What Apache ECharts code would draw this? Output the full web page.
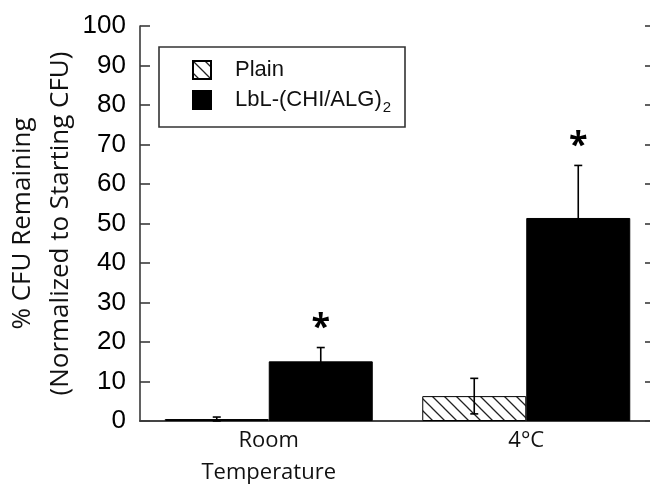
<!DOCTYPE html>
<html>
<head>
<meta charset="utf-8">
<script src="https://cdn.jsdelivr.net/npm/echarts@6/dist/echarts.min.js"></script>
<style>
  html, body { margin: 0; padding: 0; background: #fff; }
  #chart { width: 650px; height: 489px; }
</style>
</head>
<body>
<div id="chart"></div>
<script>
// ---- data ----
const categories = ['Room\nTemperature', '4°C'];
const seriesNames = ['Plain', 'LbL-(CHI/ALG)2'];
const plainValues = [0.5, 6.3];
const plainErrors = [0.5, 4.5];
const lblValues = [15.1, 51.4];
const lblErrors = [3.5, 13.3];
const lblSignificance = ['*', '*'];
const yMin = 0, yMax = 100, yStep = 10;

// ---- style ----
const BAR_W = 104;
const AXIS_COLOR = '#3a3a3a';

function hatchPattern() {
  const s = 12;
  const c = document.createElement('canvas');
  c.width = s; c.height = s;
  const g = c.getContext('2d');
  g.fillStyle = '#fff';
  g.fillRect(0, 0, s, s);
  g.strokeStyle = '#222';
  g.lineWidth = 1.3;
  g.beginPath();
  g.moveTo(-1, -1); g.lineTo(s + 1, s + 1);
  g.moveTo(-s - 1, -1); g.lineTo(1, s + 1);
  g.moveTo(s - 1, -1); g.lineTo(2 * s + 1, s + 1);
  g.stroke();
  return c;
}

const errData = [];
categories.forEach((c, i) => {
  errData.push([i, plainValues[i], plainErrors[i], -1, '']);
  errData.push([i, lblValues[i], lblErrors[i], 1, lblSignificance[i]]);
});

const chart = echarts.init(document.getElementById('chart'), null, { renderer: 'canvas' });

const option = {
  animation: false,
  backgroundColor: '#fff',
  grid: { left: 140, right: -5, top: 26, bottom: 68, outerBoundsMode: 'none', containLabel: false },
  xAxis: [{
    type: 'category',
    data: categories,
    position: 'bottom',
    axisLine: { lineStyle: { color: AXIS_COLOR, width: 1.6 } },
    axisTick: { inside: true, length: 10, lineStyle: { color: AXIS_COLOR, width: 1.6 } },
    axisLabel: {
      margin: 4,
      fontFamily: 'Open Sans', fontSize: 22, color: '#111', lineHeight: 32
    }
  }, {
    type: 'category',
    data: categories,
    position: 'top',
    axisLine: { lineStyle: { color: AXIS_COLOR, width: 1.6 } },
    axisTick: { inside: true, length: 10, lineStyle: { color: AXIS_COLOR, width: 1.6 } },
    axisLabel: { show: false }
  }],
  yAxis: [{
    type: 'value',
    min: yMin, max: yMax, interval: yStep,
    position: 'left',
    name: '% CFU Remaining\n(Normalized to Starting CFU)',
    nameLocation: 'middle',
    nameGap: 60,
    nameMoveOverlap: false,
    nameTextStyle: { fontFamily: 'Open Sans', fontSize: 26, color: '#111', lineHeight: 38 },
    axisLine: { show: true, lineStyle: { color: AXIS_COLOR, width: 1.6 } },
    axisTick: { show: true, inside: true, length: 10, lineStyle: { color: AXIS_COLOR, width: 1.6 } },
    splitLine: { show: false },
    axisLabel: {
      margin: 14,
      fontFamily: 'Liberation Sans', fontSize: 26, color: '#000',
      padding: [0, 0, 10, 0]
    }
  }, {
    type: 'value',
    min: yMin, max: yMax, interval: yStep,
    position: 'right',
    axisLine: { show: true, lineStyle: { color: AXIS_COLOR, width: 1.6 } },
    axisTick: { show: true, inside: true, length: 10, lineStyle: { color: AXIS_COLOR, width: 1.6 } },
    splitLine: { show: false },
    axisLabel: { show: false }
  }],
  legend: {
    orient: 'vertical',
    left: 192, top: 59,
    padding: 0,
    icon: 'rect',
    itemWidth: 18, itemHeight: 18, itemGap: 8,
    data: seriesNames,
    formatter: (n) => n === 'LbL-(CHI/ALG)2' ? 'LbL-(CHI/ALG){sub|2}' : n,
    textStyle: {
      fontFamily: 'Liberation Sans', fontSize: 22, color: '#111',
      padding: [0, 0, 0, 19],
      rich: { sub: { fontFamily: 'Liberation Sans', fontSize: 15, color: '#111', padding: [15, 0, 0, 1] } }
    }
  },
  graphic: [{
    type: 'rect',
    shape: { x: 159, y: 47, width: 246, height: 80 },
    style: { fill: 'none', stroke: '#333', lineWidth: 1.6 },
    z: 100
  }],
  series: [{
    name: seriesNames[0],
    type: 'bar',
    data: plainValues,
    barWidth: BAR_W,
    barGap: '0%',
    itemStyle: { color: { image: hatchPattern(), repeat: 'repeat' }, borderColor: '#000', borderWidth: 1 }
  }, {
    name: seriesNames[1],
    type: 'bar',
    data: lblValues,
    barWidth: BAR_W,
    barGap: '0%',
    itemStyle: { color: '#000', borderColor: '#000', borderWidth: 1 }
  }, {
    type: 'custom',
    name: 'err',
    data: errData,
    z: 10,
    renderItem: (params, api) => {
      const i = api.value(0), v = api.value(1), e = api.value(2), side = api.value(3);
      const star = errData[params.dataIndex][4];
      const top = api.coord([i, v + e]);
      const bot = api.coord([i, Math.max(v - e, 0)]);
      const x = top[0] + side * BAR_W / 2;
      const cap = 4;
      const st = { stroke: '#000', lineWidth: 1.6 };
      const children = [
        { type: 'line', shape: { x1: x, y1: top[1], x2: x, y2: bot[1] }, style: st },
        { type: 'line', shape: { x1: x - cap, y1: top[1], x2: x + cap, y2: top[1] }, style: st },
        { type: 'line', shape: { x1: x - cap, y1: bot[1], x2: x + cap, y2: bot[1] }, style: st }
      ];
      if (star) {
        children.push({
          type: 'text',
          style: {
            text: star, x: x, y: top[1] - 19,
            align: 'center', verticalAlign: 'middle',
            font: 'bold 34px "Open Sans"', fill: '#000'
          }
        });
      }
      return { type: 'group', children };
    }
  }]
};

chart.setOption(option);
</script>
</body>
</html>
